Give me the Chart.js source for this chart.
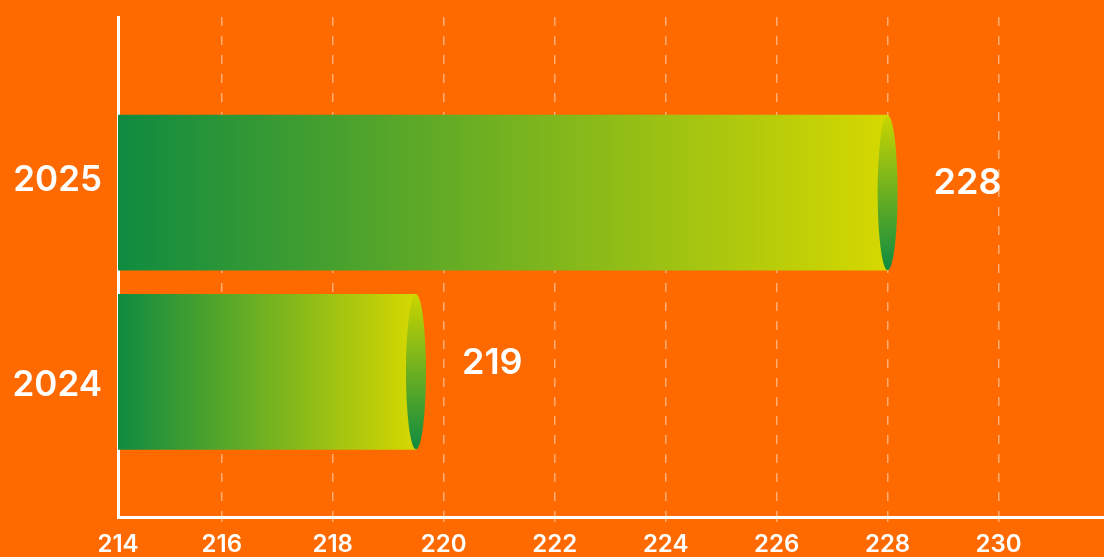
<!DOCTYPE html>
<html>
<head>
<meta charset="utf-8">
<script src="https://cdn.jsdelivr.net/npm/chart.js@4.4.0/dist/chart.umd.min.js"></script>
<style>
    html, body { margin: 0; padding: 0; background: #ff6a00; }
    #wrap { width: 1104px; height: 557px; position: relative; }
</style>
</head>
<body>
<div id="wrap"><canvas id="chart"></canvas></div>
<script>
// Values.
const years = ['2025', '2024'];
const totals = [228, 219.5];
const totalLabels = ['228', '219'];
const xTicks = [214, 216, 218, 220, 222, 224, 226, 228, 230];

const GREEN = '#0f8b40';
const YELLOW = '#d6d800';
const FONT = 'Inter, "Noto Sans", sans-serif';

// the axis starts a little after 214 in the original
const X_MIN = 214.13;
const X_MAX = 231.9;


/**
 * Horizontal gradient for one bar, from the axis to the end of the bar.
 */
function barGradient(ctx) {
    const chart = ctx.chart;
    const area = chart.chartArea;
    if (!area || ctx.dataIndex === undefined) return GREEN;
    const end = chart.scales.x.getPixelForValue(totals[ctx.dataIndex]);
    const g = chart.ctx.createLinearGradient(area.left, 0, end, 0);
    g.addColorStop(0, GREEN);
    g.addColorStop(1, YELLOW);
    return g;
}


// Draws the round end of each "cylinder" and the value next to it.
const capPlugin = {
    id: 'caps',
    afterDatasetsDraw(chart) {
        const c = chart.ctx;
        chart.getDatasetMeta(0).data.forEach((bar, i) => {
            const h = bar.height;
            const top = bar.y - h / 2;
            const g = c.createLinearGradient(0, top, 0, top + h);
            g.addColorStop(0, '#cad500');
            g.addColorStop(1, '#0f8b40');
            c.save();
            c.beginPath();
            c.ellipse(bar.x, bar.y, 10, h / 2, 0, 0, Math.PI * 2);
            c.fillStyle = g;
            c.fill();
            c.fillStyle = '#ffffff';
            c.font = `600 36px ${FONT}`;
            c.textAlign = 'left';
            c.textBaseline = 'middle';
            c.fillText(totalLabels[i], bar.x + 46, bar.y - 9);
            c.restore();
        });
    }
};


new Chart(document.getElementById('chart'), {
    type: 'bar',
    data: {
        datasets: [{
            data: totals.map((v, i) => ({ x: v, y: i + 1 })),
            backgroundColor: barGradient,
            borderWidth: 0,
            barThickness: 155
        }]
    },
    options: {
        indexAxis: 'y',
        responsive: true,
        maintainAspectRatio: false,
        animation: false,
        layout: { padding: { top: 17, right: 0, left: 0, bottom: 0 } },
        plugins: {
            legend: { display: false },
            tooltip: { enabled: false }
        },
        scales: {
            x: {
                type: 'linear',
                min: X_MIN,
                max: X_MAX,
                afterBuildTicks: scale => {
                    scale.ticks = xTicks.map(v => ({ value: Math.max(v, X_MIN) }));
                },
                afterFit: scale => {
                    scale.height = 40;
                    scale.paddingLeft = 0;
                    scale.paddingRight = 0;
                },
                grid: {
                    color: ctx => ctx.index === 0 ? 'rgba(0,0,0,0)' : 'rgba(255,255,255,0.45)',
                    lineWidth: 1.5,
                    tickLength: 5,
                    drawTicks: true
                },
                border: { display: true, color: '#ffffff', width: 3, dash: [9, 10] },
                ticks: {
                    color: '#ffffff',
                    padding: 8,
                    maxRotation: 0,
                    autoSkip: false,
                    font: { family: FONT, size: 24, weight: '600' },
                    callback: (v, i) => String(xTicks[i])
                }
            },
            y: {
                type: 'linear',
                offset: false,
                bounds: 'data',
                grace: 0,
                reverse: true,
                min: 0.02,
                max: 2.81,
                z: 1,
                afterBuildTicks: scale => {
                    // the year labels sit slightly off the bar centres
                    scale.ticks = [{ value: 0.93 }, { value: 2.075 }];
                },
                afterFit: scale => {
                    scale.width = 118;
                    scale.paddingTop = 0;
                    scale.paddingBottom = 0;
                },
                grid: { display: false, drawTicks: false, offset: false },
                border: { display: true, color: '#ffffff', width: 3 },
                ticks: {
                    color: '#ffffff',
                    padding: 16,
                    autoSkip: false,
                    font: { family: FONT, size: 35, weight: '600' },
                    callback: (v, i) => years[i]
                }
            }
        }
    },
    plugins: [capPlugin]
});
</script>
</body>
</html>
